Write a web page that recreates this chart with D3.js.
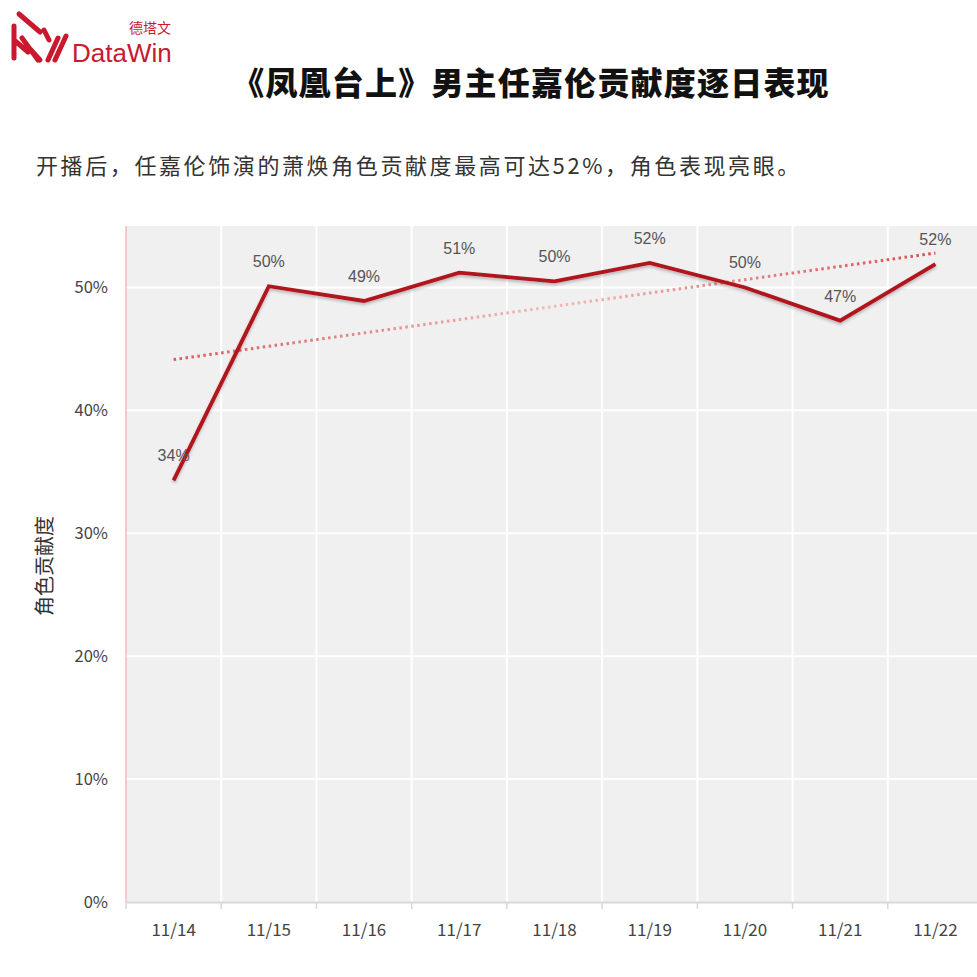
<!DOCTYPE html>
<html><head><meta charset="utf-8">
<script src="https://cdn.jsdelivr.net/npm/d3@7"></script>
<style>
html,body{margin:0;padding:0;background:#fff;}
svg{display:block;}
</style></head>
<body>
<script>
const dates = ["11/14","11/15","11/16","11/17","11/18","11/19","11/20","11/21","11/22"];
const values = [34.3, 50.1, 48.9, 51.2, 50.5, 52.0, 50.0, 47.3, 51.9];
const valueLabels = ["34%","50%","49%","51%","50%","52%","50%","47%","52%"];
const yTicks = [0,10,20,30,40,50];
const title = "《凤凰台上》男主任嘉伦贡献度逐日表现";
const subtitle = "开播后，任嘉伦饰演的萧焕角色贡献度最高可达52%，角色表现亮眼。";
const yTitle = "角色贡献度";

const W = 977, H = 977;
const svg = d3.select("body").append("svg").attr("width", W).attr("height", H);
const defs = svg.append("defs");
const f = defs.append("filter").attr("id","sh").attr("x","-10%").attr("y","-10%").attr("width","120%").attr("height","130%");
f.append("feDropShadow").attr("dx",0).attr("dy",2).attr("stdDeviation",1.5).attr("flood-color","#000").attr("flood-opacity",0.25);

const plot = {left:126, right:983, top:226, bottom:902};
const x = d3.scaleBand().domain(dates).range([plot.left, plot.right]);
const y = d3.scaleLinear().domain([0,55]).range([plot.bottom, plot.top]);

// background
svg.append("rect").attr("x",plot.left).attr("y",plot.top)
  .attr("width",plot.right-plot.left).attr("height",plot.bottom-plot.top).attr("fill","#f0f0f1");

// horizontal gridlines
svg.append("g").selectAll("line").data(yTicks.filter(d=>d>0)).join("line")
  .attr("x1",plot.left).attr("x2",plot.right).attr("y1",d=>y(d)).attr("y2",d=>y(d))
  .attr("stroke","#fff").attr("stroke-width",2);
// vertical gridlines at band boundaries
svg.append("g").selectAll("line").data(dates.slice(1)).join("line")
  .attr("x1",d=>x(d)).attr("x2",d=>x(d)).attr("y1",plot.top).attr("y2",plot.bottom)
  .attr("stroke","#fff").attr("stroke-width",2);

// left axis line
svg.append("line").attr("x1",plot.left).attr("x2",plot.left).attr("y1",plot.top).attr("y2",plot.bottom)
  .attr("stroke","#eab0b0").attr("stroke-width",1.2);

// x axis
const xAxis = svg.append("g").attr("transform",`translate(0,${plot.bottom})`)
  .call(d3.axisBottom(x).tickSize(0).tickPadding(22));
xAxis.select(".domain").attr("stroke","#d8d8d8").attr("stroke-width",2);
xAxis.selectAll("text").attr("font-family","'Noto Sans CJK SC','Noto Sans',sans-serif").attr("font-size",17).attr("fill","#444");
svg.append("g").selectAll("line").data(dates).join("line")
  .attr("x1",d=>x(d)).attr("x2",d=>x(d)).attr("y1",plot.bottom).attr("y2",plot.bottom+7)
  .attr("stroke","#d8d8d8").attr("stroke-width",1.5);

// y axis labels
const yAxis = svg.append("g").attr("transform",`translate(${plot.left},0)`)
  .call(d3.axisLeft(y).tickValues(yTicks).tickSize(0).tickPadding(18).tickFormat(d=>d+"%"));
yAxis.select(".domain").remove();
yAxis.selectAll("text").attr("font-family","'Noto Sans CJK SC','Noto Sans',sans-serif").attr("font-size",16.5).attr("fill","#444");

// y title
svg.append("text").attr("transform","translate(52,566) rotate(-90)").attr("text-anchor","middle")
  .attr("font-family","'Noto Sans CJK SC',sans-serif").attr("font-size",20).attr("fill","#333").text(yTitle);

// trend line (linear regression of the series)
const n = values.length;
const xs = d3.range(n);
const mx = d3.mean(xs), my = d3.mean(values);
const slope = d3.sum(xs.map((xi,i)=>(xi-mx)*(values[i]-my))) / d3.sum(xs.map(xi=>(xi-mx)**2));
const icpt = my - slope*mx;
const cx = d => x(d) + x.bandwidth()/2;
const grad = defs.append("linearGradient").attr("id","tg").attr("gradientUnits","userSpaceOnUse")
  .attr("x1",cx(dates[0])).attr("x2",cx(dates[n-1])).attr("y1",0).attr("y2",0);
grad.append("stop").attr("offset","0").attr("stop-color","#d85a5a");
grad.append("stop").attr("offset","0.5").attr("stop-color","#f2baba");
grad.append("stop").attr("offset","1").attr("stop-color","#dc4a4a");
svg.append("line")
  .attr("x1",cx(dates[0])).attr("y1",y(icpt))
  .attr("x2",cx(dates[n-1])).attr("y2",y(icpt+slope*(n-1)))
  .attr("stroke","url(#tg)").attr("stroke-width",3).attr("stroke-dasharray","2.5 3.5");

// main line
const line = d3.line().x((d,i)=>cx(dates[i])).y(d=>y(d));
svg.append("path").datum(values).attr("d",line).attr("fill","none")
  .attr("stroke","#b0121b").attr("stroke-width",3.8).attr("stroke-linejoin","miter")
  .attr("filter","url(#sh)");

// data labels
svg.append("g").selectAll("text").data(values).join("text")
  .attr("x",(d,i)=>cx(dates[i])).attr("y",d=>y(d)-19)
  .attr("text-anchor","middle").attr("font-family","'Liberation Sans',Arial,sans-serif")
  .attr("font-size",16).attr("fill","#555").text((d,i)=>valueLabels[i]);

// title & subtitle
svg.append("text").attr("x",531).attr("y",95).attr("text-anchor","middle")
  .attr("font-family","'Noto Sans CJK SC',sans-serif").attr("font-weight",900)
  .attr("font-size",32).attr("letter-spacing",1.2).attr("fill","#111").text(title);
svg.append("text").attr("x",36).attr("y",174)
  .attr("font-family","'Noto Sans CJK SC',sans-serif").attr("font-size",22)
  .attr("letter-spacing",2.6).attr("fill","#333").text(subtitle);

// logo
const logo = svg.append("g").attr("fill","none").attr("stroke","#c8192e").attr("stroke-linecap","round");
logo.append("path").attr("d","M19 14 L40 32 M14 26 L14 58 M14 40 L28 52 M22 38 L38 60 M31 50 L40 60 M44 30 L49 40 M58 38 L48 60 M66 36 L55 60")
  .attr("stroke-width",5);
svg.append("text").attr("x",72).attr("y",62).attr("font-family","'Liberation Sans',Arial,sans-serif")
  .attr("font-size",26).attr("fill","#c8192e").text("DataWin");
svg.append("text").attr("x",129).attr("y",33).attr("font-family","'Noto Sans CJK SC',sans-serif")
  .attr("font-size",14).attr("fill","#c8192e").text("德塔文");
</script>
</body></html>
